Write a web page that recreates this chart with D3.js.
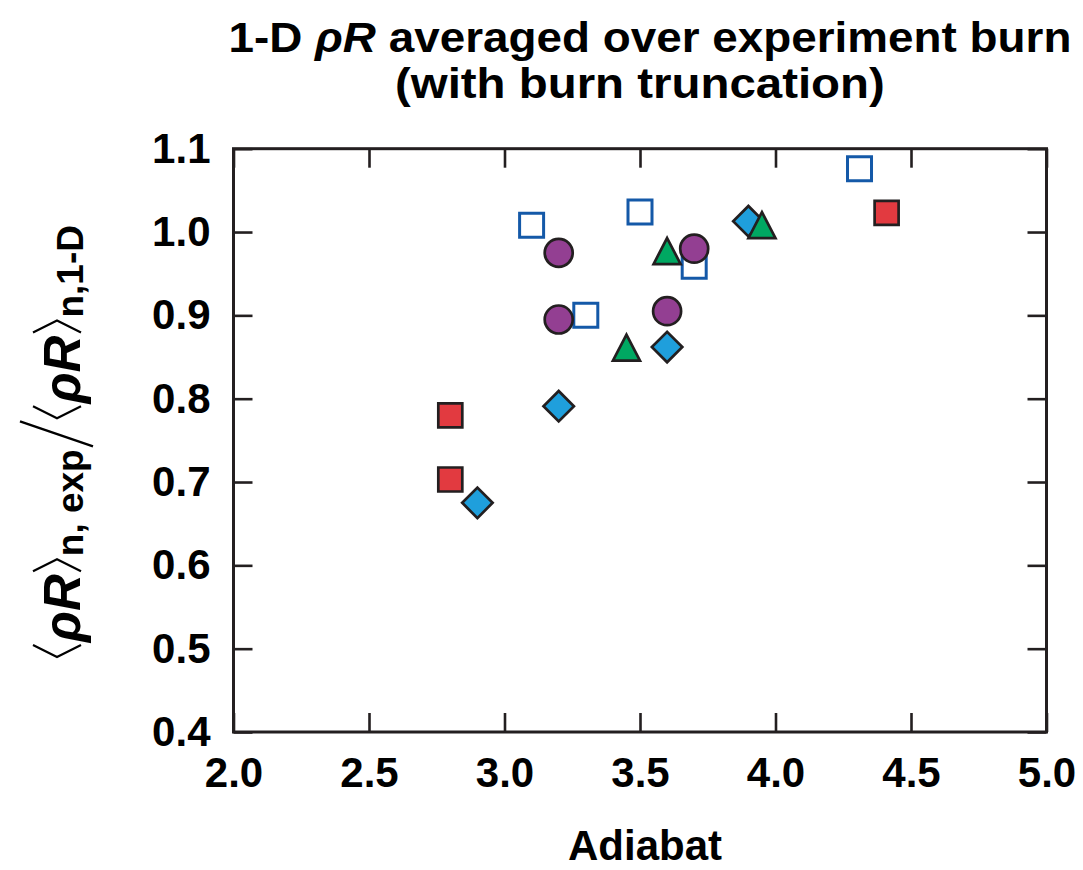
<!DOCTYPE html>
<html>
<head>
<meta charset="utf-8">
<script src="https://cdn.jsdelivr.net/npm/d3@7"></script>
<style>
  html, body { margin: 0; padding: 0; background: #fff; }
  svg { display: block; font-family: "Liberation Sans", Arial, Helvetica, sans-serif; }
</style>
</head>
<body>
<svg id="chart" width="1083" height="870"></svg>
<script>
// ---- data: adiabat vs. normalized areal density ratio ----
const redSquares   = [[2.8, 0.780], [2.8, 0.703], [4.41, 1.023]];
const openSquares  = [[3.1, 1.008], [3.3, 0.900], [3.5, 1.024], [3.7, 0.959], [4.31, 1.076]];
const diamonds     = [[2.9, 0.675], [3.2, 0.791], [3.6, 0.862], [3.9, 1.013]];
const triangles    = [[3.45, 0.860], [3.6, 0.976], [3.95, 1.007]];
const circles      = [[3.2, 0.975], [3.2, 0.895], [3.6, 0.905], [3.7, 0.980]];

const xTicks = [2.0, 2.5, 3.0, 3.5, 4.0, 4.5, 5.0];
const yTicks = [0.4, 0.5, 0.6, 0.7, 0.8, 0.9, 1.0, 1.1];
const xDomain = [2.0, 5.0];
const yDomain = [0.4, 1.1];

// ---- layout ----
const plot = { left: 233.5, right: 1046.5, top: 148.7, bottom: 732 };
const ink = "#231f20";

const svg = d3.select("#chart");
const x = d3.scaleLinear().domain(xDomain).range([plot.left, plot.right]);
const y = d3.scaleLinear().domain(yDomain).range([plot.bottom, plot.top]);

const tickLen = 19;
const fmt = d3.format(".1f");

function styleAxis(g) {
  g.select(".domain").remove();
  g.selectAll(".tick line").attr("stroke", ink).attr("stroke-width", 2.6);
  g.selectAll(".tick text")
    .attr("fill", "#000")
    .attr("font-size", 42)
    .attr("font-weight", "bold")
    .attr("font-family", "Liberation Sans, Arial, sans-serif");
}

svg.append("g")
  .attr("transform", `translate(0,${plot.bottom})`)
  .call(d3.axisBottom(x).tickValues(xTicks).tickFormat(fmt)
        .tickSizeInner(-tickLen).tickSizeOuter(0).tickPadding(25))
  .call(styleAxis);

svg.append("g")
  .attr("transform", `translate(0,${plot.top})`)
  .call(d3.axisTop(x).tickValues(xTicks).tickFormat("")
        .tickSizeInner(-tickLen).tickSizeOuter(0))
  .call(styleAxis);

svg.append("g")
  .attr("transform", `translate(${plot.left},0)`)
  .call(d3.axisLeft(y).tickValues(yTicks).tickFormat(fmt)
        .tickSizeInner(-tickLen).tickSizeOuter(0).tickPadding(23))
  .call(styleAxis);

svg.append("g")
  .attr("transform", `translate(${plot.right},0)`)
  .call(d3.axisRight(y).tickValues(yTicks).tickFormat("")
        .tickSizeInner(-tickLen).tickSizeOuter(0))
  .call(styleAxis);

// frame
svg.append("rect")
  .attr("x", plot.left).attr("y", plot.top)
  .attr("width", plot.right - plot.left).attr("height", plot.bottom - plot.top)
  .attr("fill", "none").attr("stroke", ink).attr("stroke-width", 3);

// ---- markers ----
const triangleType = {
  draw(ctx, size) {
    const h = Math.sqrt(size);       // height
    const w = h * 0.52;              // half width
    ctx.moveTo(0, -h / 2 - 1);
    ctx.lineTo(w, h / 2 - 1);
    ctx.lineTo(-w, h / 2 - 1);
    ctx.closePath();
  }
};

function drawSeries(data, type, size, fill, stroke, sw, rot) {
  svg.append("g").selectAll("path")
    .data(data).join("path")
    .attr("d", d3.symbol().type(type).size(size))
    .attr("transform", d => `translate(${x(d[0])},${y(d[1])})` + (rot ? ` rotate(${rot})` : ""))
    .attr("fill", fill)
    .attr("stroke", stroke)
    .attr("stroke-width", sw)
    .attr("stroke-linejoin", "miter");
}

drawSeries(openSquares, d3.symbolSquare, 24 * 24, "#fff", "#1459a8", 3, 0);
drawSeries(diamonds, d3.symbolSquare, 21.5 * 21.5, "#1f9fdc", ink, 2.7, 45);
drawSeries(triangles, triangleType, 26 * 26, "#00a862", ink, 2.7, 0);
drawSeries(circles, d3.symbolCircle, Math.PI * 14 * 14, "#933f92", ink, 2.7, 0);
drawSeries(redSquares, d3.symbolSquare, 24 * 24, "#e23a40", ink, 2.7, 0);

// ---- title ----
function fitWidth(sel, cx, width) {
  const bb = sel.node().getBBox();
  const sx = width / bb.width;
  sel.attr("transform", `translate(${cx},0) scale(${sx},1) translate(${-(bb.x + bb.width / 2)},0)`);
}

const t1 = svg.append("text")
  .attr("y", 52).attr("font-size", 43).attr("font-weight", "bold").attr("fill", "#000");
t1.append("tspan").text("1-D ");
t1.append("tspan").attr("font-style", "italic").text("ρR");
t1.append("tspan").text(" averaged over experiment burn");
fitWidth(t1, 650, 843);

const t2 = svg.append("text")
  .attr("y", 98).attr("font-size", 43).attr("font-weight", "bold").attr("fill", "#000")
  .text("(with burn truncation)");
fitWidth(t2, 640, 490);

// ---- x-axis title ----
svg.append("text")
  .attr("x", 645).attr("y", 860)
  .attr("text-anchor", "middle")
  .attr("font-size", 42).attr("font-weight", "bold").attr("fill", "#000")
  .text("Adiabat");

// ---- y-axis title: <ρR>n,exp / <ρR>n,1-D ----
const yl = svg.append("g");
const inner = yl.append("g");
let cursor = 0;

function bracket(left) {
  const w = 12, top = -47, bot = 1;
  const p = left
    ? `M${cursor + w},${top} L${cursor},${(top + bot) / 2} L${cursor + w},${bot}`
    : `M${cursor},${top} L${cursor + w},${(top + bot) / 2} L${cursor},${bot}`;
  inner.append("path").attr("d", p).attr("fill", "none")
    .attr("stroke", "#000").attr("stroke-width", 2.2);
  cursor += w + 3;
}
function word(str, size, opts = {}) {
  const t = inner.append("text")
    .attr("x", cursor).attr("y", opts.dy || 0)
    .attr("font-size", size).attr("font-weight", "bold").attr("fill", "#000")
    .attr("font-style", opts.italic ? "italic" : "normal")
    .text(str);
  cursor += t.node().getComputedTextLength() + (opts.after || 0);
}
function slash() {
  cursor += 3;
  inner.append("path")
    .attr("d", `M${cursor},13 L${cursor + 25},-60`)
    .attr("fill", "none").attr("stroke", "#000").attr("stroke-width", 2.4);
  cursor += 28;
}

bracket(true);
word("ρR", 51, { italic: true, after: 3 });
bracket(false);
word("n, exp", 37, { dy: 3 });
slash();
bracket(true);
word("ρR", 51, { italic: true, after: 3 });
bracket(false);
word("n,1-D", 37, { dy: 3 });

const total = cursor;
yl.attr("transform", `translate(80,441) rotate(-90) translate(${-total / 2},0)`);
</script>
</body>
</html>
